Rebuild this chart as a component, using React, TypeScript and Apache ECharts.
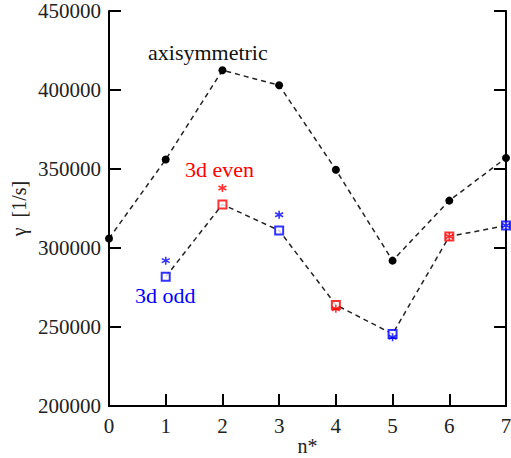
import React, { useEffect, useRef } from "react";
import * as echarts from "echarts";

// n* positions
const nStar = [0, 1, 2, 3, 4, 5, 6, 7];
// growth rate of the axisymmetric mode [1/s]
const axisymmetric = [306000, 356000, 412500, 403000, 349500, 292000, 330000, 357000];
// 3d modes, connected curve (squares)
const mode3d = [null, 281800, 327600, 311100, 264000, 245600, 307300, 314200];
// which parity each 3d point belongs to
const parity = ["", "odd", "even", "odd", "even", "odd", "even", "odd"];
// asterisk estimates for the 3d modes
const estimate3d = [null, 292000, 338000, 321000, 261500, 243500, 307300, 314200];

const yTicks = { min: 200000, max: 450000, step: 50000 };

const RED = "#ff0000";
const BLUE = "#0000ff";
const FONT = "'Times New Roman', Times, 'Liberation Serif', 'DejaVu Serif', serif";

const asterisk =
  "path://M5,0L5,10M0.67,2.5L9.33,7.5M0.67,7.5L9.33,2.5";

export default function App() {
  const ref = useRef<HTMLDivElement>(null);

  useEffect(() => {
    if (!ref.current) return;
    const chart = echarts.init(ref.current, undefined, { renderer: "svg" });

    const colorOf = (i: number) => (parity[i] === "even" ? RED : BLUE);

    const squares = nStar
      .map((n, i) =>
        mode3d[i] == null
          ? null
          : {
              value: [n, mode3d[i]],
              itemStyle: { color: "#ffffff", borderColor: colorOf(i), borderWidth: 2 },
            }
      )
      .filter(Boolean);

    const stars = nStar
      .map((n, i) =>
        estimate3d[i] == null
          ? null
          : {
              value: [n, estimate3d[i]],
              itemStyle: { color: "none", borderColor: colorOf(i), borderWidth: 1.6 },
            }
      )
      .filter(Boolean);

    const axisLine = { show: true, lineStyle: { color: "#000", width: 2 } };
    const axisTick = { show: true, inside: true, length: 12, lineStyle: { color: "#000", width: 2 } };

    chart.setOption({
      animation: false,
      backgroundColor: "#ffffff",
      textStyle: { fontFamily: FONT },
      grid: {
        left: 109,
        right: 5,
        top: 11,
        bottom: 52,
        containLabel: false,
        outerBoundsMode: "none",
      },
      xAxis: {
        type: "value",
        min: 0,
        max: 7,
        interval: 1,
        name: "n*",
        nameLocation: "middle",
        nameGap: 30,
        nameMoveOverlap: false,
        nameTextStyle: { fontFamily: FONT, fontSize: 20, color: "#222" },
        axisLine,
        axisTick,
        splitLine: { show: false },
        axisLabel: { fontFamily: FONT, fontSize: 21, color: "#222", margin: 9 },
      },
      yAxis: [
        {
          type: "value",
          min: yTicks.min,
          max: yTicks.max,
          interval: yTicks.step,
          position: "left",
          name: "γ  [1/s]",
          nameLocation: "middle",
          nameGap: 80,
          nameMoveOverlap: false,
          nameTextStyle: { fontFamily: FONT, fontSize: 20, color: "#222" },
          axisLine,
          axisTick,
          splitLine: { show: false },
          axisLabel: {
            fontFamily: FONT,
            fontSize: 21,
            color: "#222",
            margin: 8,
            formatter: (v: number) => String(v),
          },
        },
        {
          type: "value",
          min: yTicks.min,
          max: yTicks.max,
          interval: yTicks.step,
          position: "right",
          axisLine,
          axisTick,
          splitLine: { show: false },
          axisLabel: { show: false },
        },
      ],
      series: [
        {
          type: "line",
          data: nStar.map((n, i) => [n, axisymmetric[i]]),
          symbol: "circle",
          symbolSize: 8,
          itemStyle: { color: "#000" },
          lineStyle: { color: "#222", width: 1.5, type: [5, 4] },
          z: 3,
        },
        {
          type: "line",
          data: nStar
            .map((n, i) => (mode3d[i] == null ? null : [n, mode3d[i]]))
            .filter(Boolean),
          showSymbol: false,
          lineStyle: { color: "#222", width: 1.5, type: [5, 4] },
          z: 2,
        },
        {
          type: "scatter",
          data: squares,
          symbol: "rect",
          symbolSize: 8,
          z: 4,
        },
        {
          type: "scatter",
          data: stars,
          symbol: asterisk,
          symbolSize: 8,
          z: 5,
        },
      ],
      graphic: [
        {
          type: "text",
          left: 148,
          top: 41,
          style: { text: "axisymmetric", font: `22px ${FONT}`, fill: "#111" },
        },
        {
          type: "text",
          left: 185,
          top: 158,
          style: { text: "3d even", font: `22px ${FONT}`, fill: RED },
        },
        {
          type: "text",
          left: 135,
          top: 284,
          style: { text: "3d odd", font: `22px ${FONT}`, fill: BLUE },
        },
      ],
    });

    return () => chart.dispose();
  }, []);

  return (
    <div
      ref={ref}
      style={{ position: "fixed", left: 0, top: 0, width: 511, height: 458, background: "#fff" }}
    />
  );
}
